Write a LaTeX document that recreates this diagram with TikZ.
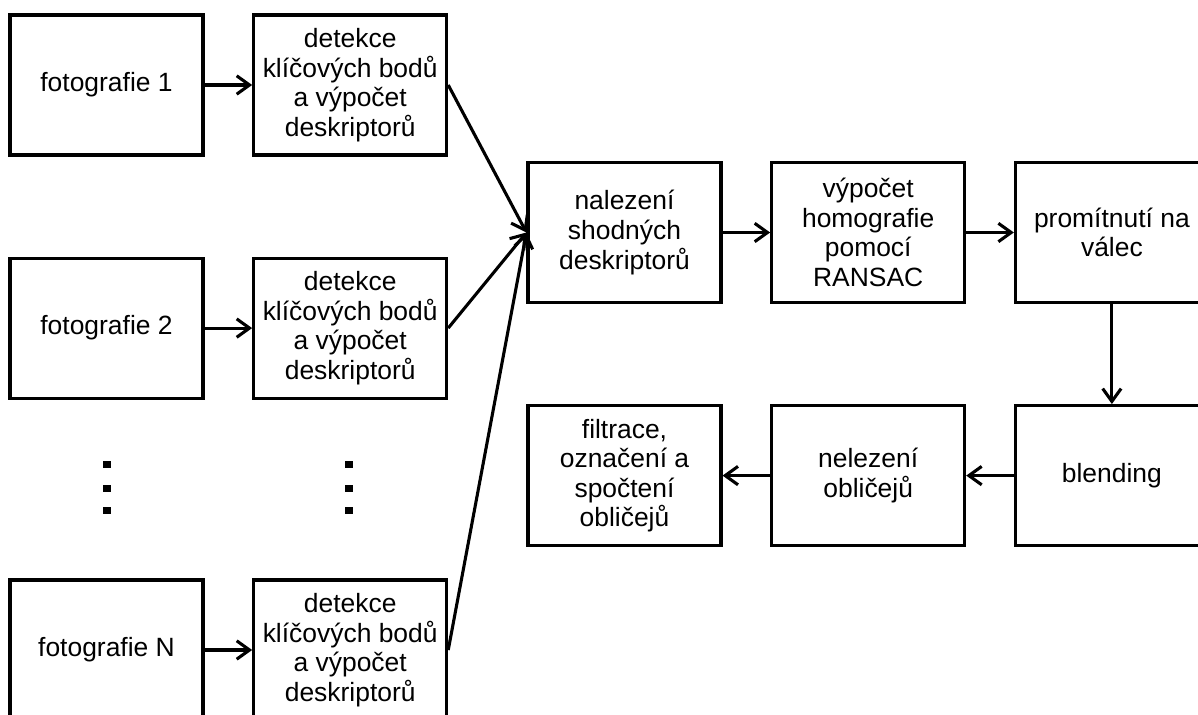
\documentclass[tikz,border=0pt]{standalone}
\usepackage{fontspec}
\setmainfont{Liberation Sans}
\usetikzlibrary{arrows.meta,positioning}
\tikzset{
  stepbox/.style={rectangle,draw=black,line width=2.2pt,fill=white,align=center,minimum width=4.825cm,minimum height=3.5cm,inner sep=2pt,font=\fontsize{18.8}{21}\selectfont},
  arrow/.style={-{Straight Barb[length=3.2mm,width=4.6mm]},line width=2.2pt},
  dotmark/.style={rectangle,fill=black,minimum size=0.18cm,inner sep=0pt}
}

\begin{document}
\begin{tikzpicture}[node distance=1.19cm]
    \path[use as bounding box,clip] (0,0) rectangle (29.95,-17.875);
    % input photos
    \node[stepbox] (foto1) at (2.6625,-2.125) {fotografie 1};
    \node[stepbox,right=of foto1] (det1) {detekce\\klíčových bodů\\a výpočet\\deskriptorů};
    \node[stepbox,below=2.5cm of foto1] (foto2) {fotografie 2};
    \node[stepbox,right=of foto2] (det2) {detekce\\klíčových bodů\\a výpočet\\deskriptorů};
    \node[stepbox] (fotoN) at (2.6625,-16.25) {fotografie N};
    \node[stepbox,right=of fotoN] (detN) {detekce\\klíčových bodů\\a výpočet\\deskriptorů};
    \foreach \y [count=\i] in {465,489,511} {
      \node[dotmark] (dotl\i) at (2.675,{-\y*0.025}) {};
      \node[dotmark] (dotr\i) at (8.725,{-\y*0.025}) {};
    }
    % panorama pipeline
    \node[stepbox] (match) at (15.6125,-5.8125) {nalezení\\shodných\\deskriptorů};
    \node[stepbox,right=of match] (homog) {výpočet\\homografie\\pomocí\\RANSAC};
    \node[stepbox,right=of homog] (proj) {promítnutí na\\válec};
    \node[stepbox,below=2.5cm of proj] (blend) {blending};
    \node[stepbox,left=of blend] (faces) {nelezení\\obličejů};
    \node[stepbox,left=of faces] (count) {filtrace,\\označení a\\spočtení\\obličejů};
    \draw[arrow] (foto1) -- (det1);
    \draw[arrow] (foto2) -- (det2);
    \draw[arrow] (fotoN) -- (detN);
    \draw[arrow] (det1.east) -- (match.west);
    \draw[arrow] (det2.east) -- (match.west);
    \draw[arrow] (detN.east) -- (match.west);
    \draw[arrow] (match) -- (homog);
    \draw[arrow] (homog) -- (proj);
    \draw[arrow] (proj) -- (blend);
    \draw[arrow] (blend) -- (faces);
    \draw[arrow] (faces) -- (count);
\end{tikzpicture}
\end{document}
